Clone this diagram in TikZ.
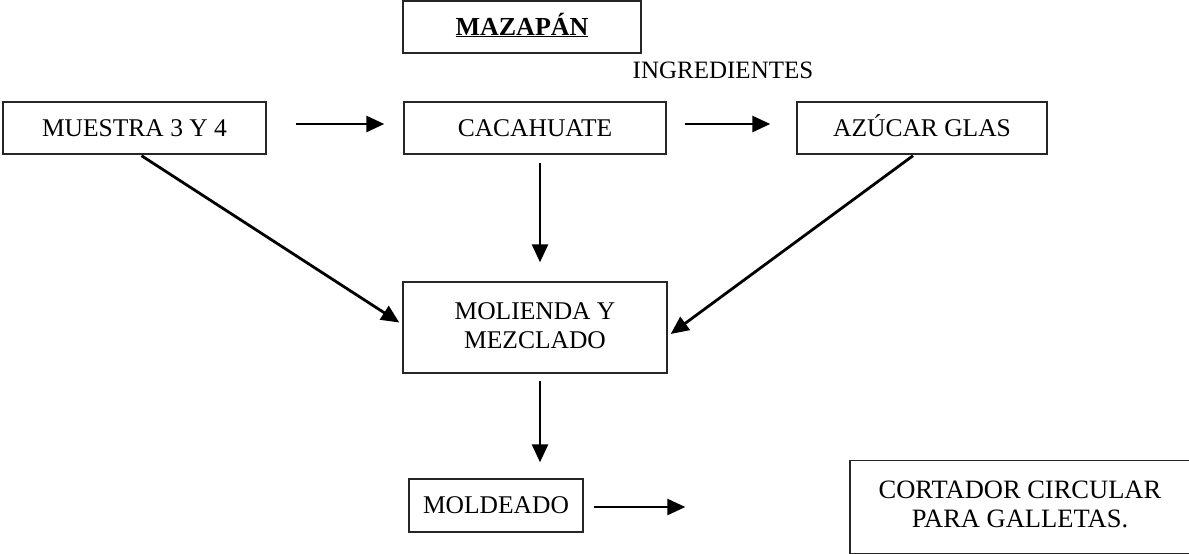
\documentclass[tikz,border=0pt]{standalone}
\usepackage{fontspec}
\setmainfont{Liberation Serif}
\usetikzlibrary{arrows.meta,calc}
\begin{document}
\begin{tikzpicture}[x=1pt,y=-1pt,
  box/.style={draw=black!85,line width=1.4pt,rectangle,inner sep=0pt,
    font=\fontsize{25.5}{30}\selectfont},
  onebox/.style={box,text height=17pt,text depth=1pt},
  arr/.style={line width=2.8pt,-{Triangle[length=18pt,width=16pt]}},
  lbl/.style={inner sep=0pt,font=\fontsize{25}{29}\selectfont}]
\useasboundingbox (0,0) rectangle (1189,554);

% boxes
\node[onebox,minimum width=238pt,minimum height=52pt,font=\fontsize{26}{30}\selectfont\bfseries] (mazapan) at (522,27) {\underline{MAZAPÁN}};
\node[lbl] (ingr) at (723,70) {INGREDIENTES};
\node[onebox,minimum width=263pt,minimum height=52pt] (muestra) at (134.5,128) {MUESTRA 3 Y 4};
\node[onebox,minimum width=262pt,minimum height=52pt] (cacahuate) at (535,128) {CACAHUATE};
\node[onebox,minimum width=250pt,minimum height=52pt] (azucar) at (922,128) {AZÚCAR GLAS};
\node[box,minimum width=264pt,minimum height=91pt] (molienda) at (535,327.5)
  {\raisebox{5pt}{\begin{tabular}{@{}c@{}}MOLIENDA Y\\[-1pt]MEZCLADO\end{tabular}}};
\node[onebox,minimum width=174pt,minimum height=53pt] (moldeado) at (496,505.5) {MOLDEADO};
\node[box,minimum width=350pt,minimum height=92.5pt,font=\fontsize{26.5}{31}\selectfont] (cortador) at (1025,507)
  {\raisebox{5pt}{\hspace*{-10pt}\begin{tabular}{@{}c@{}}CORTADOR CIRCULAR\\[-2pt]PARA GALLETAS.\end{tabular}}};

% connectors
\draw[arr,shorten <=29pt,shorten >=19pt] ([yshift=4pt]muestra.east) -- ([yshift=4pt]cacahuate.west);
\draw[arr,shorten <=18pt,shorten >=26pt] ([yshift=4pt]cacahuate.east) -- ([yshift=4pt]azucar.west);
\coordinate (c1) at ([xshift=5pt]cacahuate.south);
\draw[arr,shorten <=8pt,shorten >=19pt] (c1) -- (c1 |- molienda.north);
\draw[arr] ([xshift=7pt,yshift=-1pt]muestra.south) -- ([shift={(-3pt,5pt)}]molienda.west);
\draw[arr] ([xshift=-9pt,yshift=-1pt]azucar.south) -- ([shift={(3pt,-6.5pt)}]molienda.east);
\coordinate (m1) at ([xshift=5pt]molienda.south);
\draw[arr,shorten <=7pt,shorten >=16pt] (m1) -- (m1 |- moldeado.north);
\draw[arr,shorten <=10pt,shorten >=164pt] ([yshift=-1.5pt]moldeado.east) -- ([yshift=0pt]cortador.west);
\end{tikzpicture}
\end{document}
